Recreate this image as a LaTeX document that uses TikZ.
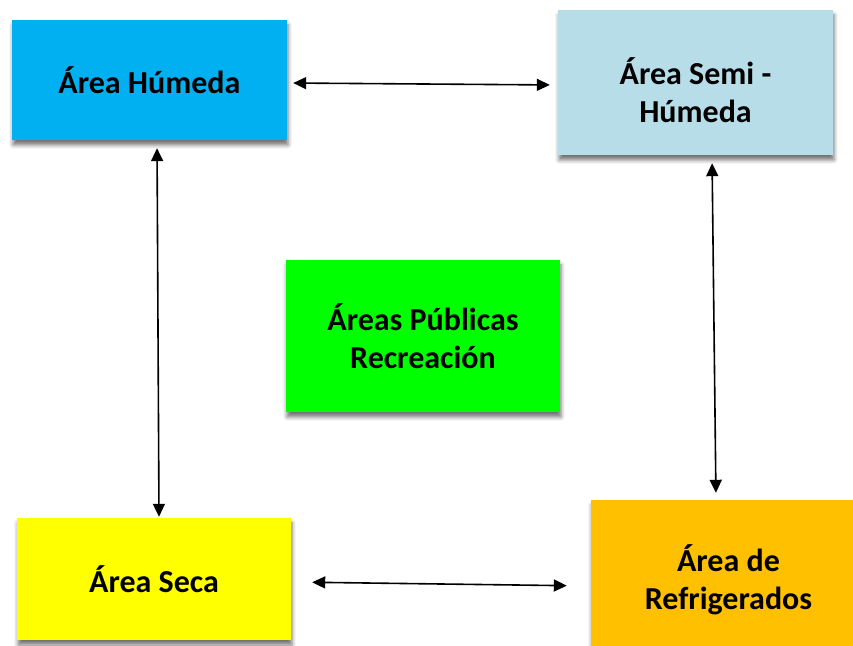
\documentclass[tikz,border=0pt]{standalone}
\usepackage{fontspec}
\setmainfont{Carlito}
\usetikzlibrary{shapes,arrows.meta,shadows.blur}

\begin{document}
\begin{tikzpicture}[x=1pt,y=1pt]
	\tikzstyle{every node}=[font=\fontsize{32}{38}\selectfont\bfseries]
	\tikzstyle{areabox}=[rectangle, align=center, inner sep=0pt, blur shadow={shadow xshift=1pt, shadow yshift=-5pt, shadow blur radius=4pt, shadow opacity=55}]
	\tikzstyle{link}=[{Triangle[length=13pt,width=12pt]}-{Triangle[length=13pt,width=12pt]}, line width=1.6pt]
	
	\definecolor{a00humeda}{RGB}{0,176,240}
	\definecolor{a00semi}{RGB}{183,222,232}
	\definecolor{a00publica}{RGB}{0,255,0}
	\definecolor{a00seca}{RGB}{255,255,0}
	\definecolor{a00refri}{RGB}{255,192,0}
	%%Canvas of the page
	
	\useasboundingbox (0.0000,0.0000) rectangle (853.0000,645.0000);
	
	%%Areas
	\node [areabox, fill= a00humeda, minimum width=275pt, minimum height=120pt]  (hum) at (149.5000,565.0000)  {Área Húmeda};
	\node [areabox, fill= a00semi, minimum width=275pt, minimum height=145pt]  (semi) at (695.5000,562.5000)  {\rule{0pt}{42pt}Área Semi -\\Húmeda};
	\node [areabox, fill= a00publica, minimum width=274pt, minimum height=152pt]  (pub) at (423.0000,309.0000)  {Áreas Públicas\\Recreación};
	\node [areabox, fill= a00seca, minimum width=274pt, minimum height=122pt]  (seca) at (154.0000,66.0000)  {Área Seca};
	\node [areabox, fill= a00refri, minimum width=275pt, minimum height=160pt]  (refri) at (728.5000,65.0000)  {Área de\\Refrigerados};
	
	%%Links
	\draw [link, shorten <=6pt, shorten >=8pt]  ([yshift=-3pt]hum.east) -- ([yshift=-2.5pt]semi.west);
	\draw [link, shorten <=8pt, shorten >=1pt]  ([xshift=7.5pt]hum.south) -- ([xshift=5pt]seca.north);
	\draw [link, shorten <=8pt, shorten >=7pt]  ([xshift=16.5pt]semi.south) -- ([xshift=-12.5pt]refri.north);
	\draw [link, shorten <=21pt, shorten >=24pt]  ([yshift=-3pt]seca.east) -- ([yshift=-6pt]refri.west);

\end{tikzpicture}
\end{document}
